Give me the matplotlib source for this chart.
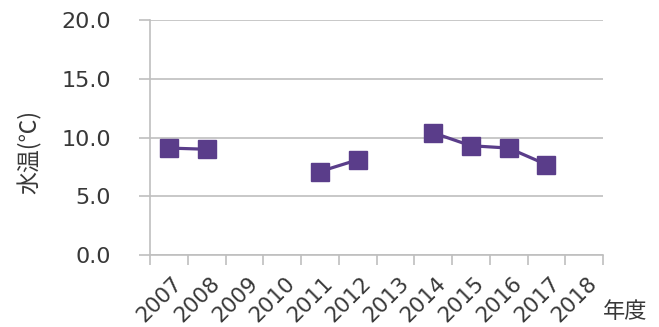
import numpy as np
import matplotlib
matplotlib.use("Agg")
import matplotlib.pyplot as plt

# Annual water temperature data (NaN = no survey that year)
years = ["2007", "2008", "2009", "2010", "2011", "2012",
         "2013", "2014", "2015", "2016", "2017", "2018"]
water_temp = [9.1, 9.0, np.nan, np.nan, 7.1, 8.1,
              np.nan, 10.4, 9.3, 9.1, 7.7, np.nan]
y_ticks = [0.0, 5.0, 10.0, 15.0, 20.0]

purple = "#5a3d8a"
grid_gray = "#bfbfbf"
text_gray = "#383838"

fig = plt.figure(figsize=(6.59, 3.27), dpi=100)
ax = fig.add_axes([150 / 659, 1 - 255 / 327, 453 / 659, 235 / 327])

x = np.arange(len(years))
ax.plot(x, water_temp, color=purple, lw=2.3, marker="s", ms=13,
        markerfacecolor=purple, markeredgecolor=purple, zorder=3)

ax.set_xlim(-0.5, len(years) - 0.5)
ax.set_ylim(0, 20)
ax.set_yticks(y_ticks)
ax.set_yticklabels([f"{v:.1f}" for v in y_ticks], fontsize=16, color=text_gray)
ax.yaxis.grid(True, color=grid_gray, lw=1.2)
ax.set_axisbelow(True)
ax.tick_params(axis="y", length=8, color=grid_gray, width=1.2, pad=20)

# Category boundaries carry the tick marks; labels sit at the centres
ax.set_xticks(np.arange(-0.5, len(years)), minor=False)
ax.set_xticklabels([])
ax.set_xticks(x + 0.08, minor=True)
ax.set_xticklabels(years, minor=True, rotation=45, ha="right",
                   rotation_mode="anchor", fontsize=15.5, color=text_gray)
ax.tick_params(axis="x", which="major", length=7, color=grid_gray, width=1.2)
ax.tick_params(axis="x", which="minor", length=0, pad=13)

for side in ("top", "right"):
    ax.spines[side].set_visible(False)
for side in ("left", "bottom"):
    ax.spines[side].set_color(grid_gray)
    ax.spines[side].set_linewidth(1.2)

cjk = ["Noto Sans CJK JP", "DejaVu Sans"]
fig.text(30 / 659, 1 - 152 / 327, "水温(℃)", rotation=90, ha="center",
         va="center", fontsize=16.5, color=text_gray, family=cjk)
fig.text(625 / 659, 1 - 312 / 327, "年度", ha="center", va="center",
         fontsize=16, color=text_gray, family=cjk)

fig.savefig("out.png", dpi=100, facecolor="white")
